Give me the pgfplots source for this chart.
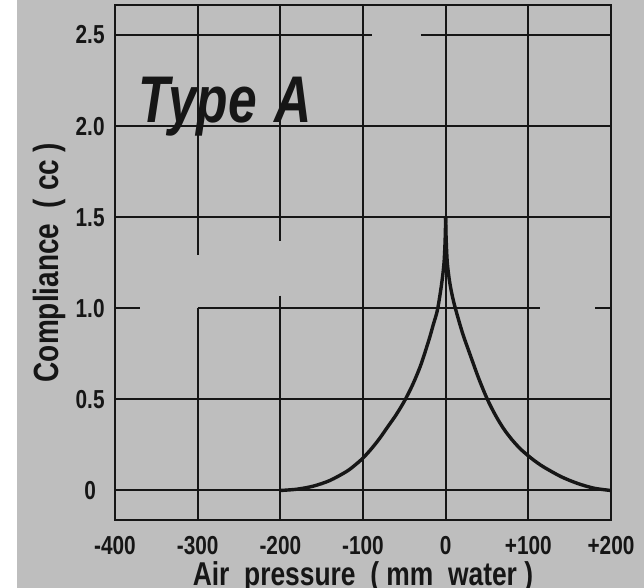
\documentclass[border=0pt]{standalone}
\usepackage{fontspec}
\setmainfont{Liberation Sans}
\newfontfamily\lab{Liberation Sans}[FakeStretch=0.8]
\newfontfamily\tfont{Liberation Sans}[FakeStretch=0.78]
\usepackage{pgfplots}
\pgfplotsset{compat=1.18}
\definecolor{bg}{RGB}{190,190,190}
\definecolor{ink}{RGB}{22,22,22}
\begin{document}
\begin{tikzpicture}
\useasboundingbox (-57.5pt,-34pt) rectangle (264.5pt,260pt);
\fill[white] (-57.5pt,-34pt) rectangle (264.5pt,260pt);
\fill[bg] (-49pt,-34pt) rectangle (264.5pt,260pt);
\begin{axis}[
  at={(0,0)}, anchor=south west,
  scale only axis, width=248pt, height=257.5pt,
  xmin=-400, xmax=200, ymin=-0.162, ymax=2.665,
  axis line style={ink, line width=1pt},
  xtick={-400,-300,-200,-100,0,100,200},
  xticklabels={-400,-300,-200,-100,0,+100,+200},
  ytick={0,0.5,1,1.5,2,2.5},
  yticklabels={\makebox[14.5pt][c]{0},0.5,1.0,1.5,2.0,2.5},
  major tick length=0pt,
  tick style={draw=none},
  xticklabel style={font=\lab\bfseries\fontsize{13}{13}\selectfont, anchor=base, yshift=-17.5pt, text=ink},
  yticklabel style={font=\lab\bfseries\fontsize{13}{13}\selectfont, anchor=east, inner sep=0pt, xshift=-5pt, text=ink},
  xlabel={Air\ \ pressure\ \ (\ mm\ \ water\ )},
  xlabel style={font=\lab\bfseries\fontsize{16.5}{16.5}\selectfont, at={(axis description cs:0.5,-0.128)}, anchor=base, inner sep=0pt, text=ink},
  ylabel={Compliance\ \ (\ cc\ )},
  ylabel style={font=\lab\bfseries\fontsize{17.5}{17.5}\selectfont, at={(axis description cs:-0.132,0.5)}, anchor=center, inner sep=0pt, text=ink},
  clip=false,
]
% grid segments (with the breaks of the original)
\pgfplotsset{gl/.style={ink, line width=1pt, forget plot}}
\addplot[gl] coordinates {(-400,2.5) (-89,2.5)};
\addplot[gl] coordinates {(-30,2.5) (200,2.5)};
\addplot[gl] coordinates {(-400,2) (200,2)};
\addplot[gl] coordinates {(-400,1.5) (200,1.5)};
\addplot[gl] coordinates {(-400,1) (-370,1)};
\addplot[gl] coordinates {(-300,1) (114,1)};
\addplot[gl] coordinates {(181,1) (200,1)};
\addplot[gl] coordinates {(-400,0.5) (200,0.5)};
\addplot[gl] coordinates {(-400,0) (200,0)};
\addplot[gl] coordinates {(-300,2.665) (-300,1.29)};
\addplot[gl] coordinates {(-300,1.0) (-300,-0.162)};
\addplot[gl] coordinates {(-200,2.665) (-200,1.37)};
\addplot[gl] coordinates {(-200,1.07) (-200,-0.162)};
\addplot[gl] coordinates {(-100,2.665) (-100,-0.162)};
\addplot[gl] coordinates {(0,2.665) (0,-0.162)};
\addplot[gl] coordinates {(100,2.665) (100,-0.162)};
% tympanogram curve
\addplot[ink, line width=1.7pt, smooth] coordinates {
(-200,0) (-180,0.007) (-160,0.024) (-140,0.055) (-120,0.104) (-110,0.138)
(-100,0.178) (-90,0.228) (-80,0.285) (-70,0.35) (-60,0.415) (-50,0.49)
(-40,0.58) (-30,0.69) (-20,0.83) (-15,0.91) (-10,0.99) (-5,1.13)
(-2,1.25) (-0.6,1.38) (0,1.5)};
\addplot[ink, line width=1.7pt, smooth] coordinates {
(0,1.5) (0.6,1.38) (2,1.25) (5,1.14) (10,1.03) (20,0.87) (30,0.74)
(40,0.615) (50,0.505) (60,0.415) (70,0.34) (80,0.28) (90,0.23) (100,0.19)
(110,0.155) (120,0.125) (140,0.075) (160,0.038) (180,0.012) (200,0)};
\node[anchor=base west, inner sep=0pt, text=ink, font=\tfont\bfseries\itshape\fontsize{33}{33}\selectfont]
  at (axis cs:-372,2.02) {Type\hspace{9pt}A};
\end{axis}
\end{tikzpicture}
\end{document}
